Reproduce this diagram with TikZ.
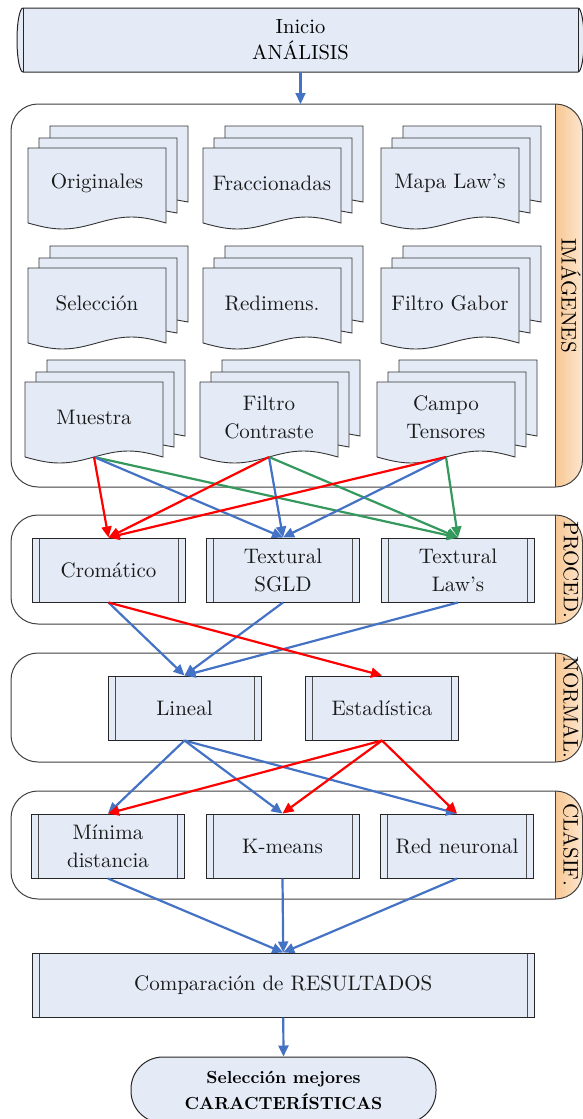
\documentclass[tikz,border=0pt]{standalone}
\usepackage{fontspec}
\setmainfont{lmroman10-regular.otf}[BoldFont=lmroman10-bold.otf, ItalicFont=lmroman10-italic.otf]
\usetikzlibrary{arrows.meta}
\definecolor{boxfill}{HTML}{E5EBF6}
\definecolor{myred}{HTML}{FF0000}
\definecolor{myblue}{HTML}{4472C4}
\definecolor{mygreen}{HTML}{35995E}
\definecolor{orA}{HTML}{F8C792}
\definecolor{orB}{HTML}{FCE7D0}
\definecolor{txt}{HTML}{1A1A1A}
\tikzset{
  docline/.style={draw=black!80, line width=0.9pt, fill=boxfill},
  doctext/.style={font=\fontsize{21}{28}\selectfont, align=center, text=txt, inner sep=0pt},
  proc/.style={draw=black!85, line width=1pt, fill=boxfill, minimum width=153pt, minimum height=64pt,
    inner sep=0pt, align=center, font=\fontsize{21}{28}\selectfont, text=txt,
    path picture={\draw[black!70, line width=1pt]
      ([xshift=7pt]path picture bounding box.north west) -- ([xshift=7pt]path picture bounding box.south west)
      ([xshift=-7pt]path picture bounding box.north east) -- ([xshift=-7pt]path picture bounding box.south east);}},
  cont/.style={draw=black!75, line width=1pt, rounded corners=27pt},
  arr/.style={line width=2.2pt, -{Triangle[length=11pt,width=10pt]}},
  sidelabel/.style={rotate=-90, font=\fontsize{21}{24}\selectfont, inner sep=0pt, text=black},
}
\newcommand{\mdoc}[4]{%
  \filldraw[docline] ({#2+22},{#3-10}) -- ({#2+22},{#3-22}) -- ({#2+160},{#3-22}) -- ({#2+160},{#3+54}) -- ({#2+149},{#3+52});
  \filldraw[docline] ({#2+11},{#3}) -- ({#2+11},{#3-10}) -- ({#2+149},{#3-10}) -- ({#2+149},{#3+65}) -- ({#2+138},{#3+63});
  \filldraw[docline] (#2,#3) -- ({#2+138},#3) -- ({#2+138},{#3+75}) sin ({#2+103.5},{#3+69}) cos ({#2+69},{#3+75}) sin ({#2+34.5},{#3+81}) cos (#2,{#3+75}) -- cycle;
  \node[doctext] (#1) at ({#2+69},{#3+35}) {#4};
  \coordinate (#1-b) at ({#2+69},{#3+75});
}
\newcommand{\stage}[4]{%
  \fill[white, rounded corners=27pt] (11,#1) rectangle (582.5,#2);
  \begin{scope}
    \clip[rounded corners=27pt] (11,#1) rectangle (582.5,#2);
    \shade[left color=orA, right color=orB] (555,#1) rectangle (583,#2);
  \end{scope}
  \draw[black!75, line width=1pt] (555,#1) -- (555,#2);
  \draw[cont] (11,#1) rectangle (582.5,#2);
  \node[sidelabel] (#4) at (571,{(#1+#2)/2}) {#3};
  \coordinate (#4-top) at (300.5,#1);
}
\begin{document}
\begin{tikzpicture}[x=1pt,y=-1pt]
\useasboundingbox (0,0) rectangle (583,1119);

% start shape
\fill[boxfill] (23,8) -- (578,8) arc[start angle=-90, end angle=90, x radius=6, y radius=32] -- (23,72) arc[start angle=90, end angle=270, x radius=6, y radius=32] -- cycle;
\draw[black!85, line width=1pt] (23,8) -- (578,8) arc[start angle=-90, end angle=90, x radius=6, y radius=32] -- (23,72) arc[start angle=90, end angle=270, x radius=6, y radius=32] -- cycle;
\draw[black!85, line width=1pt] (23,8) -- (23,72) (578,8) -- (578,72);
\node[minimum width=555pt, minimum height=64pt, inner sep=0pt, align=center, text=black,
  font=\fontsize{20.5}{26}\selectfont] (start) at (300.5,40) {Inicio\\ANÁLISIS};

% stages
\stage{104}{487}{IMÁGENES}{simg}
\stage{515}{624}{PROCED.}{sproc}
\stage{653}{762}{NORMAL.}{snorm}
\stage{791}{899}{CLASIF.}{sclas}

% documents
\mdoc{orig}{28}{148}{Originales}
\mdoc{frac}{203}{148}{Fraccionadas}
\mdoc{mapa}{381}{148}{Mapa Law’s}
\mdoc{selec}{28}{268}{Selección}
\mdoc{redim}{203}{268}{Redimens.}
\mdoc{gabor}{381}{268}{Filtro Gabor}
\mdoc{muestra}{25}{382}{Muestra}
\mdoc{filtro}{200}{382}{Filtro\\Contraste}
\mdoc{campo}{377}{382}{Campo\\Tensores}

% processes
\node[proc] (crom) at (108.5,570) {Cromático};
\node[proc] (sgld) at (283,570) {Textural\\SGLD};
\node[proc] (laws) at (458,570) {Textural\\Law’s};
\node[proc] (lineal) at (184.5,708) {Lineal};
\node[proc] (estad) at (382,708) {Estadística};
\node[proc] (minima) at (108,846) {Mínima\\distancia};
\node[proc] (kmeans) at (282.5,846) {K-means};
\node[proc] (redn) at (457,846) {Red neuronal};
\node[proc, minimum width=502.5pt] (comp) at (283.25,985) {Comparación de RESULTADOS};
\node[draw=black!85, line width=1pt, fill=boxfill, rounded corners=32pt, minimum width=305pt,
  minimum height=66pt, inner sep=0pt, align=center, text=black,
  font=\fontsize{17.5}{26}\selectfont\bfseries] (term) at (283.5,1090) {Selección mejores\\CARACTERÍSTICAS};

% connectors
\draw[arr, myblue] (start.south) -- (simg-top);

\draw[arr, mygreen] (muestra-b) -- (laws.north);
\draw[arr, mygreen] (filtro-b) -- (laws.north);
\draw[arr, mygreen] (campo-b) -- (laws.north);
\draw[arr, myblue] (muestra-b) -- (sgld.north);
\draw[arr, myblue] (filtro-b) -- (sgld.north);
\draw[arr, myblue] (campo-b) -- (sgld.north);
\draw[arr, myred] (muestra-b) -- (crom.north);
\draw[arr, myred] (filtro-b) -- (crom.north);
\draw[arr, myred] (campo-b) -- (crom.north);

\draw[arr, myblue] (crom.south) -- (lineal.north);
\draw[arr, myblue] (sgld.south) -- (lineal.north);
\draw[arr, myblue] (laws.south) -- (lineal.north);
\draw[arr, myred] (crom.south) -- (estad.north);

\draw[arr, myblue] (lineal.south) -- (minima.north);
\draw[arr, myblue] (lineal.south) -- (kmeans.north);
\draw[arr, myblue] (lineal.south) -- (redn.north);
\draw[arr, myred] (estad.south) -- (minima.north);
\draw[arr, myred] (estad.south) -- (kmeans.north);
\draw[arr, myred] (estad.south) -- (redn.north);

\draw[arr, myblue] (minima.south) -- (comp.north);
\draw[arr, myblue] (kmeans.south) -- (comp.north);
\draw[arr, myblue] (redn.south) -- (comp.north);
\draw[arr, myblue] (comp.south) -- (term.north);
\end{tikzpicture}
\end{document}
